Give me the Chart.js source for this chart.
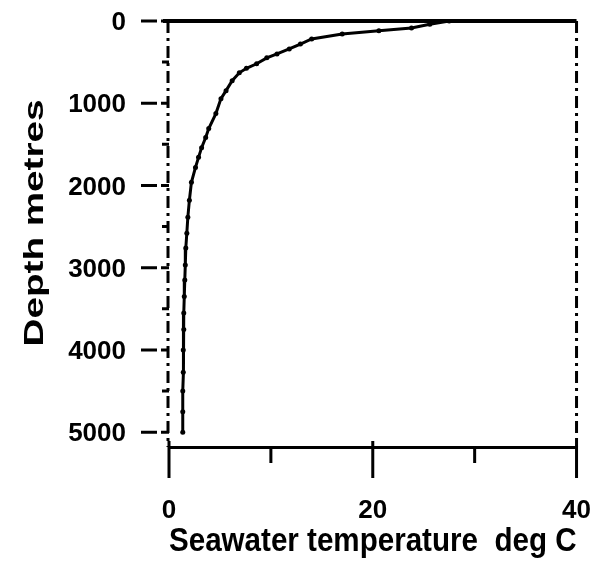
<!DOCTYPE html>
<html>
<head>
<meta charset="utf-8">
<script src="https://cdn.jsdelivr.net/npm/chart.js@4.4.0/dist/chart.umd.min.js"></script>
<style>
  html, body { margin: 0; padding: 0; background: #fff; }
  #wrap { width: 594px; height: 562px; }
</style>
</head>
<body>
<div id="wrap"><canvas id="profile"></canvas></div>
<script>
// Depth profile of seawater temperature
const depths = [0, 40, 85, 120, 157, 218, 280, 340, 400, 448, 520, 575, 630, 726, 847, 944, 1126, 1308, 1416, 1540,
                1658, 1780, 1961, 2180, 2385, 2580, 2760, 2966, 3150, 3350, 3550, 3750, 4000, 4270, 4500, 4750, 5000];
const temps = [27.5, 25.6, 23.8, 20.6, 17.0, 14.0, 12.9, 11.8, 10.6, 9.6, 8.6, 7.6, 6.9, 6.2, 5.6, 5.1, 4.6, 3.9, 3.6, 3.2,
               2.9, 2.6, 2.2, 2.0, 1.85, 1.75, 1.65, 1.6, 1.55, 1.5, 1.45, 1.45, 1.4, 1.4, 1.35, 1.35, 1.35];

// Axis ticks
const xTicks = [0, 20, 40];
const xMinorTicks = [10, 30];
const yTicks = [0, 1000, 2000, 3000, 4000, 5000];
const yMinorTicks = [500, 1500, 2500, 3500, 4500];

const xTitle = 'Seawater temperature  deg C';
const yTitle = 'Depth metres';

Chart.defaults.font.family = '"Liberation Sans", Arial, sans-serif';
Chart.defaults.font.weight = 'bold';
Chart.defaults.color = '#000';

// Frame (left / top / right), tick marks and the stretched y title
const frameAndTicks = {
    id: 'frameAndTicks',
    afterDraw(chart) {
        const ctx = chart.ctx;
        const x = chart.scales.x;
        const y = chart.scales.y;
        const area = chart.chartArea;

        ctx.save();
        ctx.strokeStyle = '#000';

        // top edge, solid
        ctx.lineWidth = 4;
        ctx.beginPath();
        ctx.moveTo(area.left - 6, area.top);
        ctx.lineTo(area.right, area.top);
        ctx.stroke();

        // left and right edges, dash-dot
        ctx.lineWidth = 3;
        ctx.setLineDash([12, 5, 3, 5]);
        ctx.beginPath();
        ctx.moveTo(area.left - 1, area.top);
        ctx.lineTo(area.left - 1, area.bottom);
        ctx.moveTo(area.right, area.top);
        ctx.lineTo(area.right, area.bottom);
        ctx.stroke();
        ctx.setLineDash([]);

        ctx.beginPath();
        xTicks.forEach(function(v) {
            const px = x.getPixelForValue(v);
            ctx.moveTo(px, area.bottom - 6);
            ctx.lineTo(px, area.bottom + 31);
        });
        xMinorTicks.forEach(function(v) {
            const px = x.getPixelForValue(v);
            ctx.moveTo(px, area.bottom);
            ctx.lineTo(px, area.bottom + 16);
        });
        yTicks.forEach(function(v) {
            const py = y.getPixelForValue(v);
            ctx.moveTo(area.left - 28, py);
            ctx.lineTo(area.left - 12, py);
            ctx.moveTo(area.left - 8, py);
            ctx.lineTo(area.left, py);
        });
        yMinorTicks.forEach(function(v) {
            const py = y.getPixelForValue(v);
            ctx.moveTo(area.left - 7, py);
            ctx.lineTo(area.left, py);
        });
        ctx.stroke();

        // y title
        ctx.translate(43, (area.top + area.bottom) / 2 - 11);
        ctx.rotate(-Math.PI / 2);
        ctx.scale(1.38, 1);
        ctx.fillStyle = '#000';
        ctx.font = 'bold 28px "Liberation Sans", Arial, sans-serif';
        ctx.textAlign = 'center';
        ctx.textBaseline = 'alphabetic';
        ctx.fillText(yTitle, 0, 0);
        ctx.restore();
    }
};

// invisible tick slots that push the labels away from the axes
const hiddenTicks = { display: true, drawOnChartArea: false, drawTicks: true, tickColor: 'rgba(0,0,0,0)' };

const ctx = document.getElementById('profile').getContext('2d');
const profileChart = new Chart(ctx, {
    type: 'line',
    data: {
        datasets: [{
            label: 'Temperature',
            data: depths.map(function(d, i) { return { x: temps[i], y: d }; }),
            borderColor: '#000',
            backgroundColor: '#000',
            borderWidth: 3,
            pointRadius: 2.5,
            pointBorderWidth: 0,
            pointBackgroundColor: '#000',
            tension: 0,
            fill: false
        }]
    },
    options: {
        responsive: true,
        maintainAspectRatio: false,
        animation: false,
        layout: { padding: { left: 0, top: 21, right: 16, bottom: 0 } },
        plugins: {
            legend: { display: false },
            tooltip: { enabled: false }
        },
        scales: {
            x: {
                type: 'linear',
                position: 'bottom',
                min: 0,
                max: 40,
                afterBuildTicks: function(scale) { scale.ticks = xTicks.map(function(v) { return { value: v }; }); },
                afterFit: function(scale) { scale.height = 115; },
                grid: Object.assign({ tickLength: 45 }, hiddenTicks),
                border: { display: true, color: '#000', width: 3 },
                ticks: {
                    font: { size: 26 },
                    padding: 3,
                    maxRotation: 0,
                    autoSkip: false,
                    callback: function(value) { return String(value); }
                },
                title: {
                    display: true,
                    text: xTitle,
                    font: { size: 33.5 },
                    padding: { top: 0, bottom: 0 }
                }
            },
            y: {
                type: 'linear',
                position: 'left',
                reverse: true,
                min: 0,
                max: 5180,
                afterBuildTicks: function(scale) { scale.ticks = yTicks.map(function(v) { return { value: v }; }); },
                afterFit: function(scale) { scale.width = 169; },
                grid: Object.assign({ tickLength: 40 }, hiddenTicks),
                border: { display: false },
                ticks: {
                    font: { size: 26 },
                    padding: 3,
                    labelOffset: 2,
                    autoSkip: false,
                    callback: function(value) { return String(value); }
                }
            }
        }
    },
    plugins: [frameAndTicks]
});
</script>
</body>
</html>
